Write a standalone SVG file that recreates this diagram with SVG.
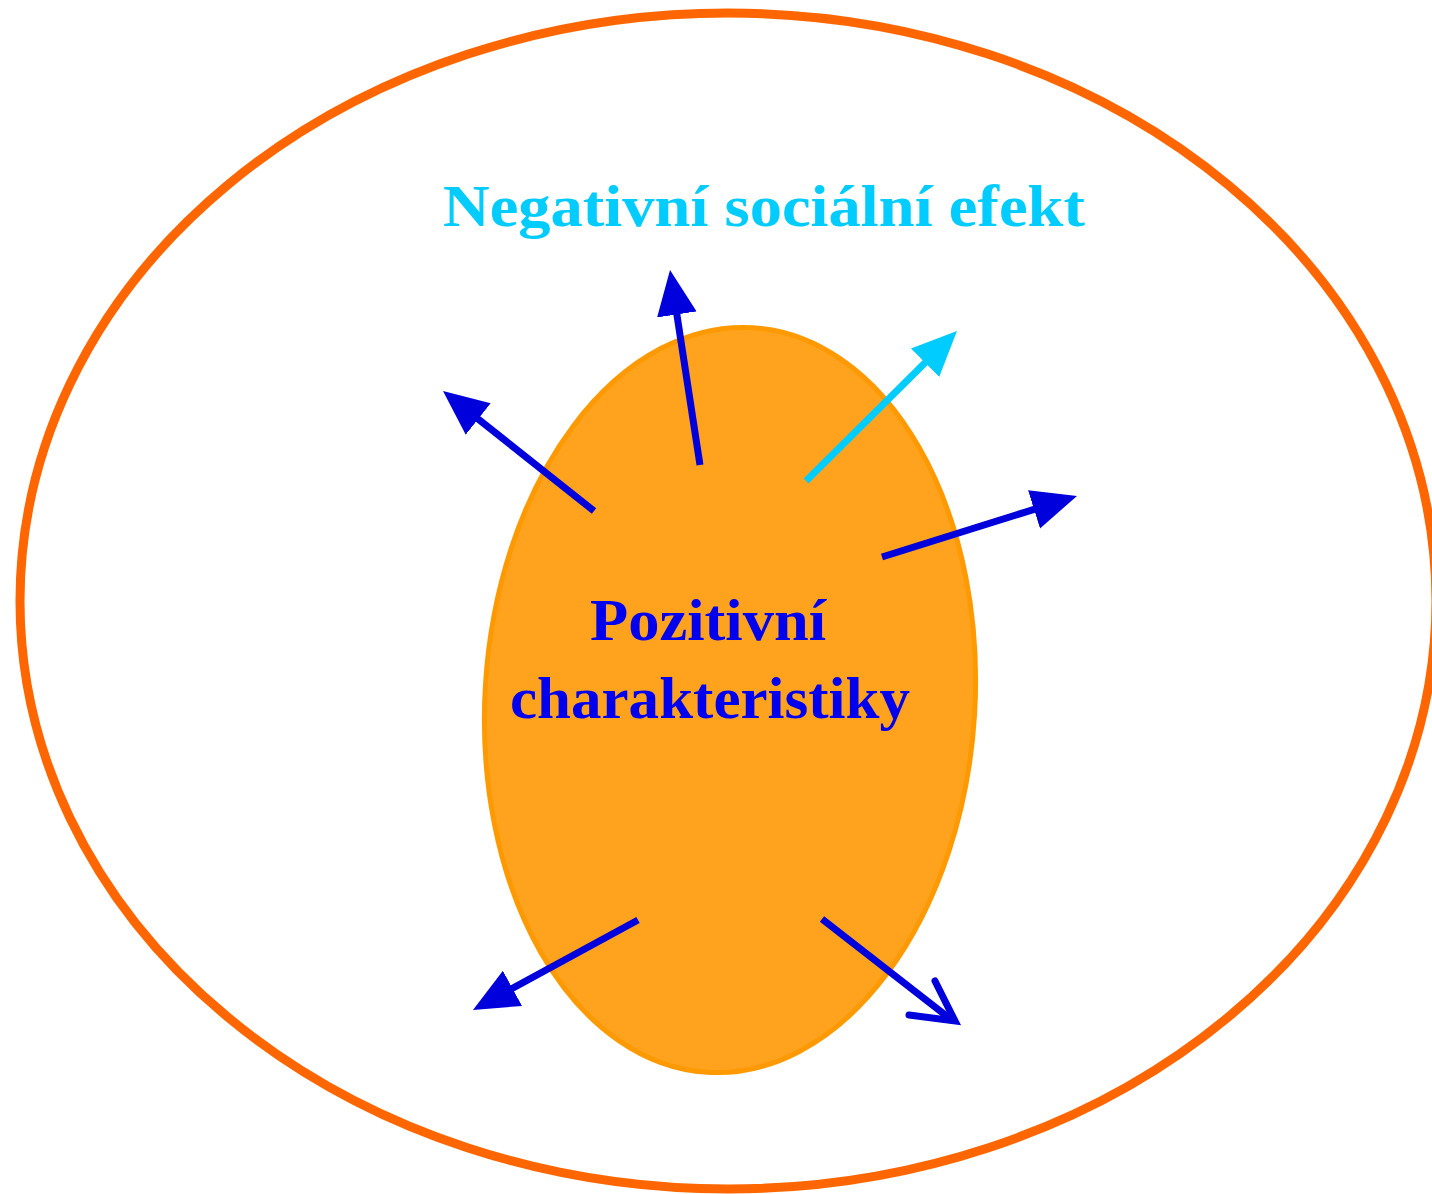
<svg xmlns="http://www.w3.org/2000/svg" width="1432" height="1194" viewBox="0 0 1432 1194">
<style>
.lbl{font-family:"Liberation Serif","Times New Roman",serif;font-weight:bold;font-size:60px;text-anchor:middle}
.ar{stroke:#0000dd;stroke-width:7;fill:none}
.cy{stroke:#00ccff;stroke-width:7;fill:none}
</style>
<defs>
<marker id="hb" markerUnits="userSpaceOnUse" markerWidth="50" markerHeight="44" viewBox="0 -22 50 44" refX="5" refY="0" orient="auto">
<path d="M0,-20 L45,0 L0,20 Z" fill="#0000dd"/>
</marker>
<marker id="hc" markerUnits="userSpaceOnUse" markerWidth="50" markerHeight="44" viewBox="0 -22 50 44" refX="5" refY="0" orient="auto">
<path d="M0,-20 L45,0 L0,20 Z" fill="#00ccff"/>
</marker>
</defs>
<g id="outer">
<ellipse cx="728" cy="601" rx="708" ry="588" fill="#ffffff" stroke="#ff6600" stroke-width="9"/>
</g>
<g id="inner">
<ellipse cx="730" cy="700" rx="245" ry="373" transform="rotate(3.5 730 700)" fill="#ffa31f" stroke="#ff9900" stroke-width="5"/>
</g>
<g id="title">
<text class="lbl" x="764" y="226" fill="#00ccff" textLength="642" lengthAdjust="spacingAndGlyphs">Negativní sociální efekt</text>
</g>
<g id="center-label">
<text class="lbl" x="708" y="640" fill="#0000ee" textLength="236" lengthAdjust="spacingAndGlyphs">Pozitivní</text>
<text class="lbl" x="710" y="718" fill="#0000ee" textLength="400" lengthAdjust="spacingAndGlyphs">charakteristiky</text>
</g>
<g id="connectors">
<line class="ar" x1="594" y1="511" x2="474.3" y2="415.9" marker-end="url(#hb)"/>
<line class="ar" x1="700" y1="465" x2="676.1" y2="309.5" marker-end="url(#hb)"/>
<line class="cy" x1="806" y1="481" x2="928.6" y2="359.2" marker-end="url(#hc)"/>
<line class="ar" x1="882" y1="557" x2="1038.8" y2="507.9" marker-end="url(#hb)"/>
<line class="ar" x1="638" y1="920" x2="508.1" y2="990.8" marker-end="url(#hb)"/>
<line class="ar" x1="822" y1="919" x2="953" y2="1021"/>
<polyline class="ar" points="909,1015 955,1021 935,981" stroke-linecap="round" stroke-linejoin="miter"/>
</g>
</svg>
